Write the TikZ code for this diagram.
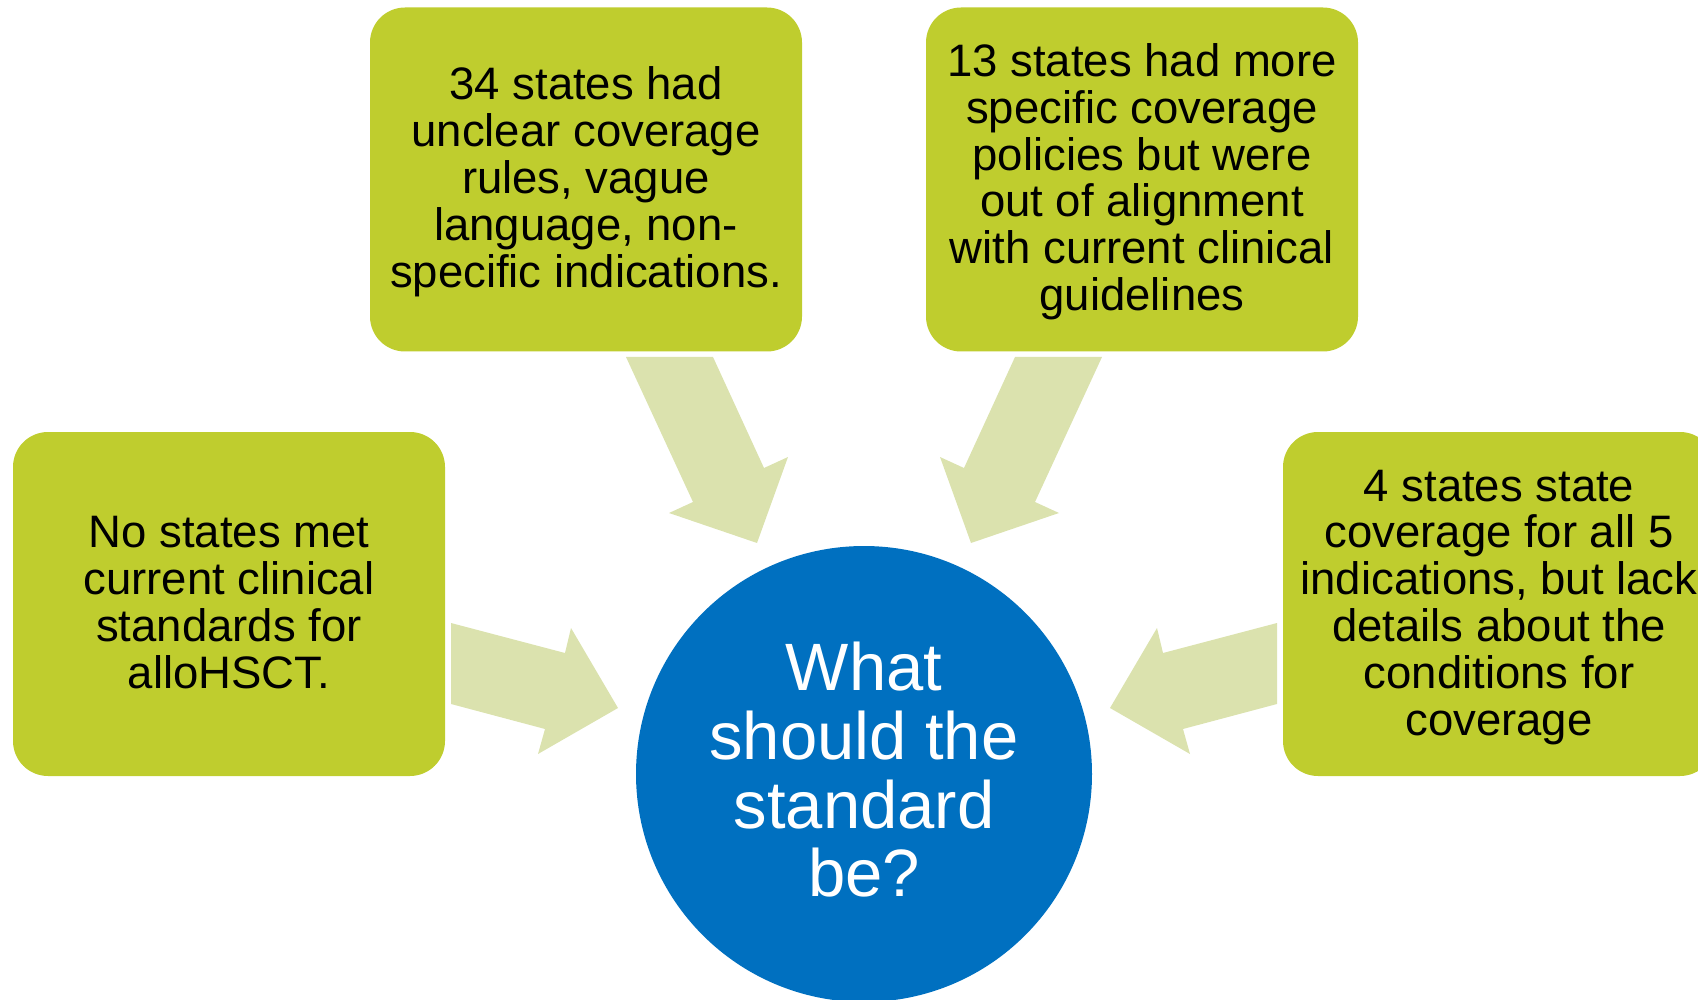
\documentclass[tikz,border=0pt]{standalone}
\usepackage{fontspec}
\setmainfont{Liberation Sans}
\definecolor{boxgreen}{HTML}{BFCD2E}
\definecolor{arrowgreen}{HTML}{DBE2AE}
\definecolor{circblue}{HTML}{0070C0}
% fixed top / bottom struts so that the text block is centred as in the original
\newcommand{\toprl}{\rule{0pt}{39pt}}
\newcommand{\botrl}{\rule[-11pt]{0pt}{11pt}}
\newcommand{\hubtop}{\rule{0pt}{52pt}}
\newcommand{\hubbot}{\rule[-12.3pt]{0pt}{12.3pt}}
\begin{document}
\begin{tikzpicture}[x=1pt,y=-1pt,
  box/.style={fill=boxgreen, rounded corners=35pt, minimum width=432pt, minimum height=344pt,
    align=center, font=\fontsize{45.5}{46.8}\selectfont, text=black, inner sep=0pt},
  blockarrow/.style={fill=arrowgreen, draw=none},
  hub/.style={circle, fill=circblue, minimum size=456pt, inner sep=0pt, align=center,
    text=white, font=\fontsize{67}{68.6}\selectfont}]
\useasboundingbox (0,0) rectangle (1698,1000);
\clip (0,0) rectangle (1698,1000);
% block arrows
\fill[blockarrow] (451,623) -- (565,653) -- (571,628) -- (618,708) -- (538,754) -- (545,729) -- (451,704) -- cycle;
\fill[blockarrow] (1277,623) -- (1163,653) -- (1157,628) -- (1110,708) -- (1190,754) -- (1183,729) -- (1277,704) -- cycle;
\fill[blockarrow] (626,357) -- (713,357) -- (764,468) -- (788,457) -- (757,543) -- (669,513) -- (693,502) -- cycle;
\fill[blockarrow] (1102,357) -- (1015,357) -- (964,468) -- (940,457) -- (971,543) -- (1059,513) -- (1035,502) -- cycle;
% boxes
\node[box] (left) at (229,604) {\toprl No states met\\current clinical\\standards for\\alloHSCT.\botrl};
\node[box] (tm) at (586,179.5) {\toprl 34 states had\\unclear coverage\\rules, vague\\language, non-\\specific indications.\botrl};
\node[box] (tr) at (1142,179.5) {\toprl 13 states had more\\specific coverage\\policies but were\\out of alignment\\with current clinical\\guidelines\botrl};
\node[box] (right) at (1499,604) {\toprl 4 states state\\coverage for all 5\\indications, but lack\\details about the\\conditions for\\coverage\botrl};
% hub
\node[hub] (hubc) at (864,774) {\hubtop What\\should the\\standard\\be?\hubbot};
\end{tikzpicture}
\end{document}
